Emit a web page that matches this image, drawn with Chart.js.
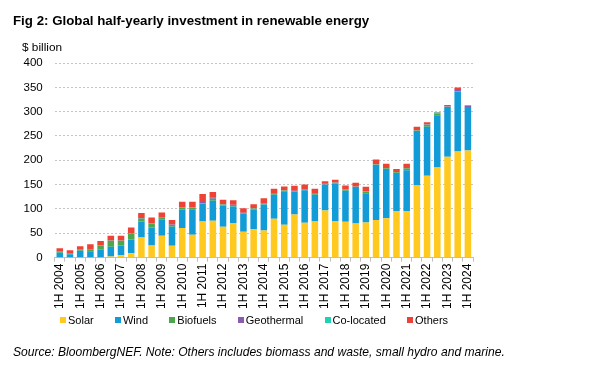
<!DOCTYPE html>
<html>
<head>
<meta charset="utf-8">
<script src="https://cdn.jsdelivr.net/npm/chart.js@4/dist/chart.umd.min.js"></script>
<style>
  html, body { margin: 0; padding: 0; background: #ffffff; }
  body { width: 600px; height: 374px; position: relative; overflow: hidden; font-family: "Liberation Sans", Arial, sans-serif; color: #000; }
  #wrap { position: absolute; left: 0; top: 0; width: 600px; height: 374px; }
  #title { position: absolute; left: 13px; top: 13px; font-size: 13.3px; font-weight: bold; line-height: 16px; white-space: nowrap; }
  #unit { position: absolute; left: 22px; top: 40px; font-size: 11.8px; line-height: 14px; white-space: nowrap; }
  #legend { position: absolute; left: 60px; top: 313px; display: flex; gap: 21.3px; font-size: 11px; line-height: 14px; white-space: nowrap; }
  #legend .item { display: flex; align-items: center; }
  #legend .box { width: 6px; height: 6px; margin-right: 2px; }
  #source { position: absolute; left: 13px; top: 345px; font-size: 12.1px; font-style: italic; line-height: 14px; white-space: nowrap; }
</style>
</head>
<body>
<div id="wrap"><canvas id="c" width="600" height="374"></canvas></div>
<div id="title">Fig 2: Global half-yearly investment in renewable energy</div>
<div id="unit">$ billion</div>
<div id="legend"></div>
<div id="source">Source: BloombergNEF. Note: Others includes biomass and waste, small hydro and marine.</div>
<script>
const years = [2004,2005,2006,2007,2008,2009,2010,2011,2012,2013,2014,2015,2016,2017,2018,2019,2020,2021,2022,2023,2024];
const categories = [];
years.forEach(function (y) { categories.push('1H ' + y); if (y < 2024) categories.push('2H ' + y); });

const seriesNames = ['Solar', 'Wind', 'Biofuels', 'Geothermal', 'Co-located', 'Others'];
const seriesColors = ['#FFC91F', '#119CD8', '#4CA64A', '#8A5BB0', '#1ED2B4', '#EE4237'];

const solar = [0,0,0,0,1,2.5,5,9,41.5,25,45,24.5,61,47,74,76,63.5,71,53,59,56,80,67.5,88.5,71.5,74.5,97,75.5,73.5,70,72,77.5,81,96,96,148,168.5,185,207.5,218,220];
const wind = [10,7,14,13,15,20,20,28.5,33,37,33,39,38,52.5,37.5,41,43.5,34,37.5,40,53,49,69,47.5,67,54.5,53,77,64,75,60.5,113,101,78,83.5,112,100.5,107.5,102,123,89.5];
const biofuels = [3,2,3,4,9,12,9.5,12,6,8,5,3.5,3.5,3.5,0.5,4,2,3,1,2,3,2,1.5,0.5,2,2,0.5,1.5,2,0.5,3.4,1,1.5,1.5,4,1.5,3.4,2.7,0.3,0.3,0.3];
const geothermal = [0.3,0.3,0.3,0.3,0.5,0.5,0.5,0.5,1,0.5,0.5,1,0.5,0.5,2.5,2,0.5,0.5,0.5,0.5,0.5,0.5,0.5,1,0.5,0.5,2.5,0.5,0.5,0.5,0.5,0.5,0.5,0.5,0.5,0.5,0.5,0.5,0.5,5.5,2.7];
const colocated = [0,0,0,0,0,0,0,0,0,0,0,0,0,0,0,0,0,0,0,0,0,0,0,0,0,0,0,0,0,0,0,0,0,0,0,0,0.5,2.7,0.5,0,0];
const others = [6,6,6,10,8.5,10,10,12,10,12,9,9.5,12,11.5,16.5,12,9.5,9.5,9.5,8,9.5,10,7.5,10,9.5,10,4,5.5,8,8,9.5,9.5,9,6,9,7,4.8,0.8,2.7,2.7,0.5];
const seriesValues = [solar, wind, biofuels, geothermal, colocated, others];

const yTicks = [0,50,100,150,200,250,300,350,400];

// legend
const lg = document.getElementById('legend');
seriesNames.forEach(function (n, i) {
  const it = document.createElement('div'); it.className = 'item';
  const b = document.createElement('div'); b.className = 'box'; b.style.background = seriesColors[i];
  const t = document.createElement('span'); t.textContent = n;
  it.appendChild(b); it.appendChild(t); lg.appendChild(it);
});

const datasets = seriesNames.map(function (n, i) {
  return { label: n, data: seriesValues[i], backgroundColor: seriesColors[i], borderWidth: 0, barPercentage: 0.64, categoryPercentage: 1.0 };
});

new Chart(document.getElementById('c'), {
  type: 'bar',
  data: { labels: categories, datasets: datasets },
  options: {
    responsive: false,
    animation: false,
    devicePixelRatio: 1,
    layout: { padding: { left: 11.5, right: 127, top: 63, bottom: 63 } },
    plugins: { legend: { display: false }, title: { display: false }, tooltip: { enabled: false } },
    scales: {
      x: {
        stacked: true,
        offset: true,
        grid: { display: true, drawOnChartArea: false, drawTicks: true, tickLength: 4, color: '#bfbfbf', offset: true },
        border: { display: true, color: '#bfbfbf', width: 1 },
        ticks: {
          autoSkip: false, maxRotation: 90, minRotation: 90, padding: 2,
          color: '#000', font: { family: 'Liberation Sans', size: 12 },
          callback: function (v, i) { const l = categories[i]; return l.indexOf('1H') === 0 ? l : ''; }
        }
      },
      y: {
        stacked: true,
        min: 0, max: 400,
        afterBuildTicks: function (ax) { ax.ticks = yTicks.map(function (v) { return { value: v }; }); },
        grid: { color: '#c4c4c4', lineWidth: 1, drawTicks: false },
        border: { display: false, dash: [2, 2] },
        ticks: { padding: 12, color: '#000', font: { family: 'Liberation Sans', size: 11.5 } }
      }
    }
  }
});
</script>
</body>
</html>
